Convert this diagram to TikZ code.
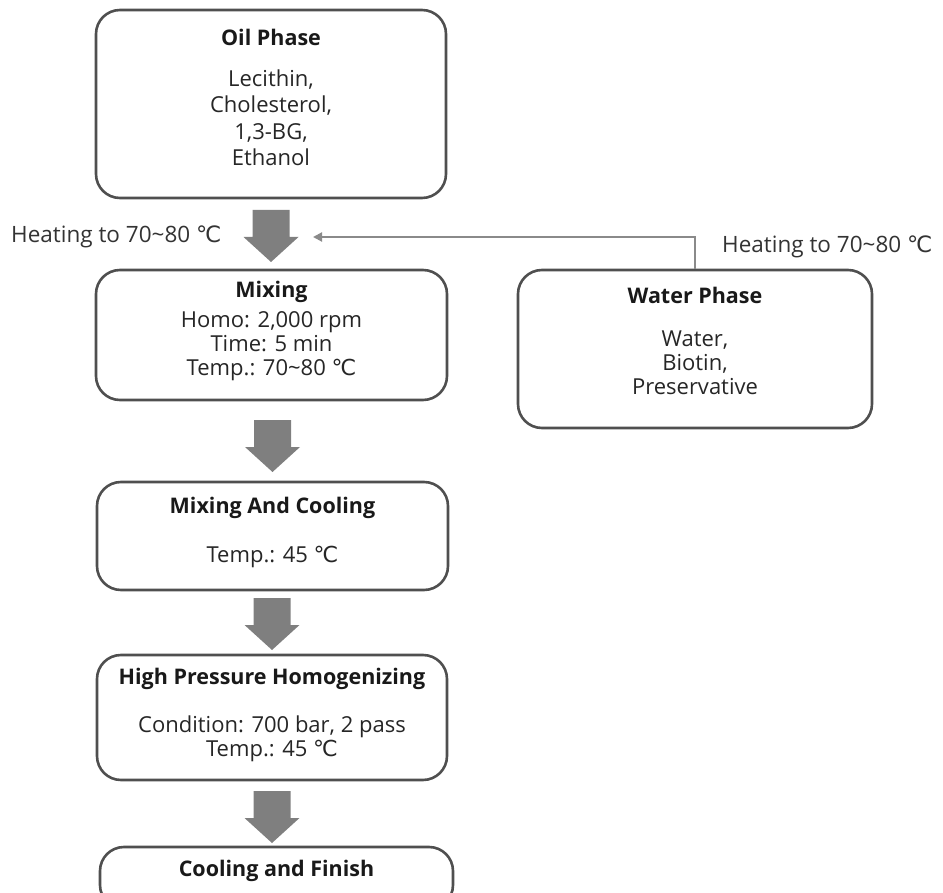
\documentclass[tikz,border=0pt]{standalone}
\usepackage{fontspec}
\setmainfont{Open Sans}
\newfontfamily\symfont{DejaVu Sans}
\newcommand{\degc}{{\symfont ℃}}
\usetikzlibrary{arrows.meta}
\definecolor{boxline}{HTML}{4F4F4F}
\definecolor{fatgray}{HTML}{7F7F7F}
\definecolor{thingray}{HTML}{8A8A8A}
\tikzset{
  stagebox/.style={draw=boxline, line width=2.6pt, rounded corners=24pt, fill=white, inner sep=0pt},
  fatarrow/.style={fill=fatgray, draw=none},
  title/.style={font=\fontsize{21.5}{24}\selectfont\bfseries, text=black!90, inner sep=0pt},
  body/.style={font=\fontsize{22}{24}\selectfont, text=black!85, align=center, inner sep=0pt},
  lbl/.style={font=\fontsize{22.5}{24}\selectfont, text=black!80, inner sep=0pt},
  thin/.style={draw=thingray, line width=2pt, -{Triangle[length=9pt,width=9pt]}}
}
\newcommand{\fatarr}[1]{\begin{scope}[shift={(#1)}]
  \fill[fatarrow] (-18.5,-26) -- (18.5,-26) -- (18.5,1) -- (27.5,1) -- (0,26) -- (-27.5,1) -- (-18.5,1) -- cycle;
\end{scope}}
\begin{document}
\begin{tikzpicture}[x=1pt,y=-1pt]
\useasboundingbox (0,0) rectangle (943,893);
\clip (0,0) rectangle (943,893);
% boxes
\node[stagebox, minimum width=350pt, minimum height=188pt] (oil) at (271,104) {};
\node[stagebox, minimum width=351pt, minimum height=130pt] (mix) at (271.5,335) {};
\node[stagebox, minimum width=354pt, minimum height=158pt] (water) at (695,349) {};
\node[stagebox, minimum width=351pt, minimum height=108pt] (mac) at (272.5,536) {};
\node[stagebox, minimum width=350pt, minimum height=125pt] (hph) at (272,717.5) {};
\node[stagebox, minimum width=353pt, minimum height=62pt] (fin) at (276.5,878) {};
% texts
\node[title] (oilt) at (271,37) {Oil Phase};
\node[body, font=\fontsize{22}{26.5}\selectfont] (oilb) at (271,118) {Lecithin,\\Cholesterol,\\1,3-BG,\\Ethanol};
\node[title] (mixt) at (271.5,292) {Mixing};
\node[body] (mixb) at (271.5,346) {Homo: 2,000 rpm\\Time: 5 min\\Temp.: 70\textasciitilde 80 \degc};
\node[title] (watt) at (695,295) {Water Phase};
\node[body] (watb) at (695,363) {Water,\\Biotin,\\Preservative};
\node[title] (mact) at (272.5,508) {Mixing And Cooling};
\node[body] (macb) at (272.5,557) {Temp.: 45 \degc};
\node[title] (hpht) at (272,679) {High Pressure Homogenizing};
\node[body] (hphb) at (272,739) {Condition: 700 bar, 2 pass\\Temp.: 45 \degc};
\node[title] (fint) at (276.5,871) {Cooling and Finish};
% fat arrows
\coordinate (a1) at (271,236);
\coordinate (a2) at (272.5,446);
\coordinate (a3) at (272,624);
\coordinate (a4) at (272,817);
\fatarr{a1}\fatarr{a2}\fatarr{a3}\fatarr{a4}
% labels
\node[lbl, anchor=west] (hl) at (11,237) {Heating to 70\textasciitilde 80 \degc};
\node[lbl, anchor=west] (hr) at (722,247) {Heating to 70\textasciitilde 80 \degc};
% thin connector
\coordinate (tip) at (313,237);
\draw[thin] (water.north -| 695,0) |- (tip);
\end{tikzpicture}
\end{document}
